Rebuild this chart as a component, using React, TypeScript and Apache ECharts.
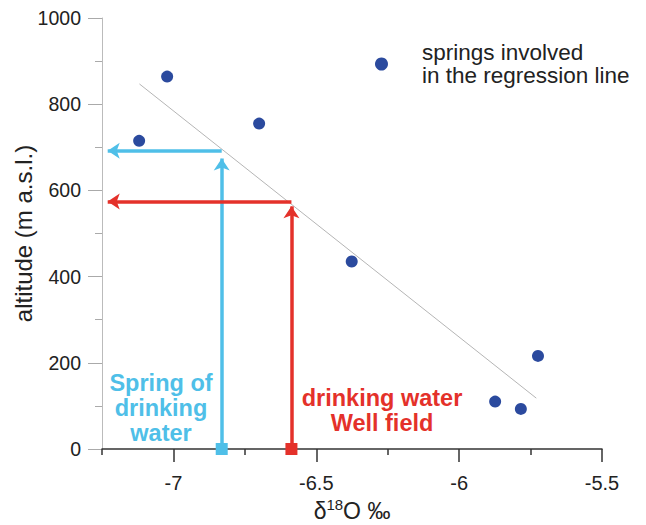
import React, { useEffect, useRef } from 'react';
import * as echarts from 'echarts';

// ---- data ----
const springO18 = [-7.12, -7.022, -6.7, -6.376, -5.724, -5.874, -5.784];
const springAlt = [715, 864, 755, 435, 216, 110, 93];
const regressionO18 = [-7.119, -5.73];
const regressionAlt = [847, 118];
const springDrinkingO18 = -6.831;
const springDrinkingAlt = 692;
const wellFieldO18 = -6.587;
const wellFieldAlt = 574;
const xMajorTicks = [-7, -6.5, -6, -5.5];
const xMinorTicks = [-7.25, -6.75, -6.25, -5.75];
const yMajorTicks = [0, 200, 400, 600, 800, 1000];
const yMinorTicks = [100, 300, 500, 700, 900];
const legendName = 'springs involved\nin the regression line';

const FONT = '"Liberation Sans", Arial, Helvetica, sans-serif';
const CYAN = '#4fbfe8';
const RED = '#e4312a';
const BLUE = '#2b4a9e';

export default function App() {
  const ref = useRef<HTMLDivElement>(null);
  useEffect(() => {
    const chart = echarts.init(ref.current!, null, { renderer: 'svg' });
    const xMin = -7.25, xMax = -5.5;
    const arrowLeftX = -7.23;
    const baseX = {
      type: 'value', min: xMin, max: xMax, position: 'bottom',
      splitLine: { show: false },
    };
    const baseY = {
      type: 'value', min: 0, max: 1000, position: 'left',
      splitLine: { show: false },
    };
    const arrowLine = (color: string, ox: number, oy: number, vTop: number) => ({
      type: 'scatter', data: [], z: 3,
      markLine: {
        silent: true, animation: false,
        symbol: ['none', 'arrow'], symbolSize: 12,
        label: { show: false },
        lineStyle: { color, width: 3.5, type: 'solid' },
        emphasis: { disabled: true },
        data: [
          [{ coord: [ox, oy] }, { coord: [arrowLeftX, oy] }],
          [{ coord: [ox, 0] }, { coord: [ox, vTop] }],
        ],
      },
    });
    chart.setOption({
      animation: false,
      textStyle: { fontFamily: FONT },
      grid: { left: 102, right: 44, top: 18, bottom: 76, containLabel: false, outerBoundsMode: 'none' },
      legend: {
        left: 375, top: 41, padding: 0, icon: 'circle', itemWidth: 13, itemHeight: 13,
        data: [legendName],
        textStyle: { fontSize: 22.5, lineHeight: 23, color: '#222', fontFamily: FONT, padding: [0, 0, 0, 29] },
      },
      xAxis: [
        {
          ...baseX,
          name: '{d|δ}{sup|18}{n|O ‰}',
          nameLocation: 'middle', nameGap: 48, nameMoveOverlap: false,
          nameTextStyle: {
            fontSize: 23, color: '#222', lineHeight: 28,
            rich: {
              d: { fontSize: 23, lineHeight: 28, color: '#222', fontFamily: FONT },
              sup: { fontSize: 15, color: '#222', verticalAlign: 'top', lineHeight: 14, fontFamily: FONT },
              n: { fontSize: 23, lineHeight: 28, color: '#222', fontFamily: FONT },
            },
          },
          axisLine: { show: true, onZero: false, lineStyle: { color: '#333', width: 1.5 } },
          axisTick: { show: true, customValues: xMinorTicks, length: 6, lineStyle: { color: '#333', width: 1.5 } },
          axisLabel: { show: true, customValues: xMajorTicks, margin: 24, fontSize: 20, color: '#222', fontFamily: FONT },
        },
        {
          ...baseX,
          axisLine: { show: false },
          axisTick: { show: true, customValues: xMajorTicks, length: 13, lineStyle: { color: '#333', width: 1.5 } },
          axisLabel: { show: false },
        },
      ],
      yAxis: [
        {
          ...baseY,
          name: 'altitude (m a.s.l.)',
          nameLocation: 'middle', nameGap: 67, nameMoveOverlap: false,
          nameTextStyle: { fontSize: 24, color: '#222' },
          axisLine: { show: true, onZero: false, lineStyle: { color: '#bbb', width: 1 } },
          axisTick: { show: true, customValues: yMajorTicks, length: 14, lineStyle: { color: '#aaa', width: 1 } },
          axisLabel: {
            show: true, customValues: yMajorTicks, margin: 21, fontSize: 19.5, color: '#222', fontFamily: FONT,
            formatter: (v: number) => String(v),
          },
        },
        {
          ...baseY,
          axisLine: { show: false },
          axisTick: { show: true, customValues: yMinorTicks, length: 7, lineStyle: { color: '#aaa', width: 1 } },
          axisLabel: { show: false },
        },
      ],
      graphic: [
        {
          type: 'text', z: 10,
          style: {
            text: 'Spring of\ndrinking\nwater', x: 161, y: 408,
            align: 'center', verticalAlign: 'middle',
            fill: CYAN, font: `bold 23.5px ${FONT}`, lineHeight: 25,
          },
        },
        {
          type: 'text', z: 10,
          style: {
            text: 'drinking water\nWell field', x: 382, y: 410.5,
            align: 'center', verticalAlign: 'middle',
            fill: RED, font: `bold 23.5px ${FONT}`, lineHeight: 25,
          },
        },
      ],
      series: [
        {
          type: 'line', data: regressionO18.map((x, i) => [x, regressionAlt[i]]),
          symbol: 'none', lineStyle: { color: '#b5b5b5', width: 1 }, z: 1, silent: true,
        },
        arrowLine(CYAN, springDrinkingO18, springDrinkingAlt, springDrinkingAlt - 18),
        arrowLine(RED, wellFieldO18, wellFieldAlt, wellFieldAlt - 11),
        {
          type: 'scatter', symbol: 'rect', symbolSize: 12, z: 5, clip: false,
          itemStyle: { opacity: 1 },
          data: [
            { value: [springDrinkingO18, 0], itemStyle: { color: CYAN, opacity: 1 } },
            { value: [wellFieldO18, 0], itemStyle: { color: RED, opacity: 1 } },
          ],
        },
        {
          name: legendName, type: 'scatter', symbolSize: 12, z: 6,
          itemStyle: { color: BLUE, opacity: 1 },
          data: springO18.map((x, i) => [x, springAlt[i]]),
        },
      ],
    });
    return () => chart.dispose();
  }, []);
  return <div ref={ref} style={{ position: 'absolute', left: 0, top: 0, width: 646, height: 525 }} />;
}
